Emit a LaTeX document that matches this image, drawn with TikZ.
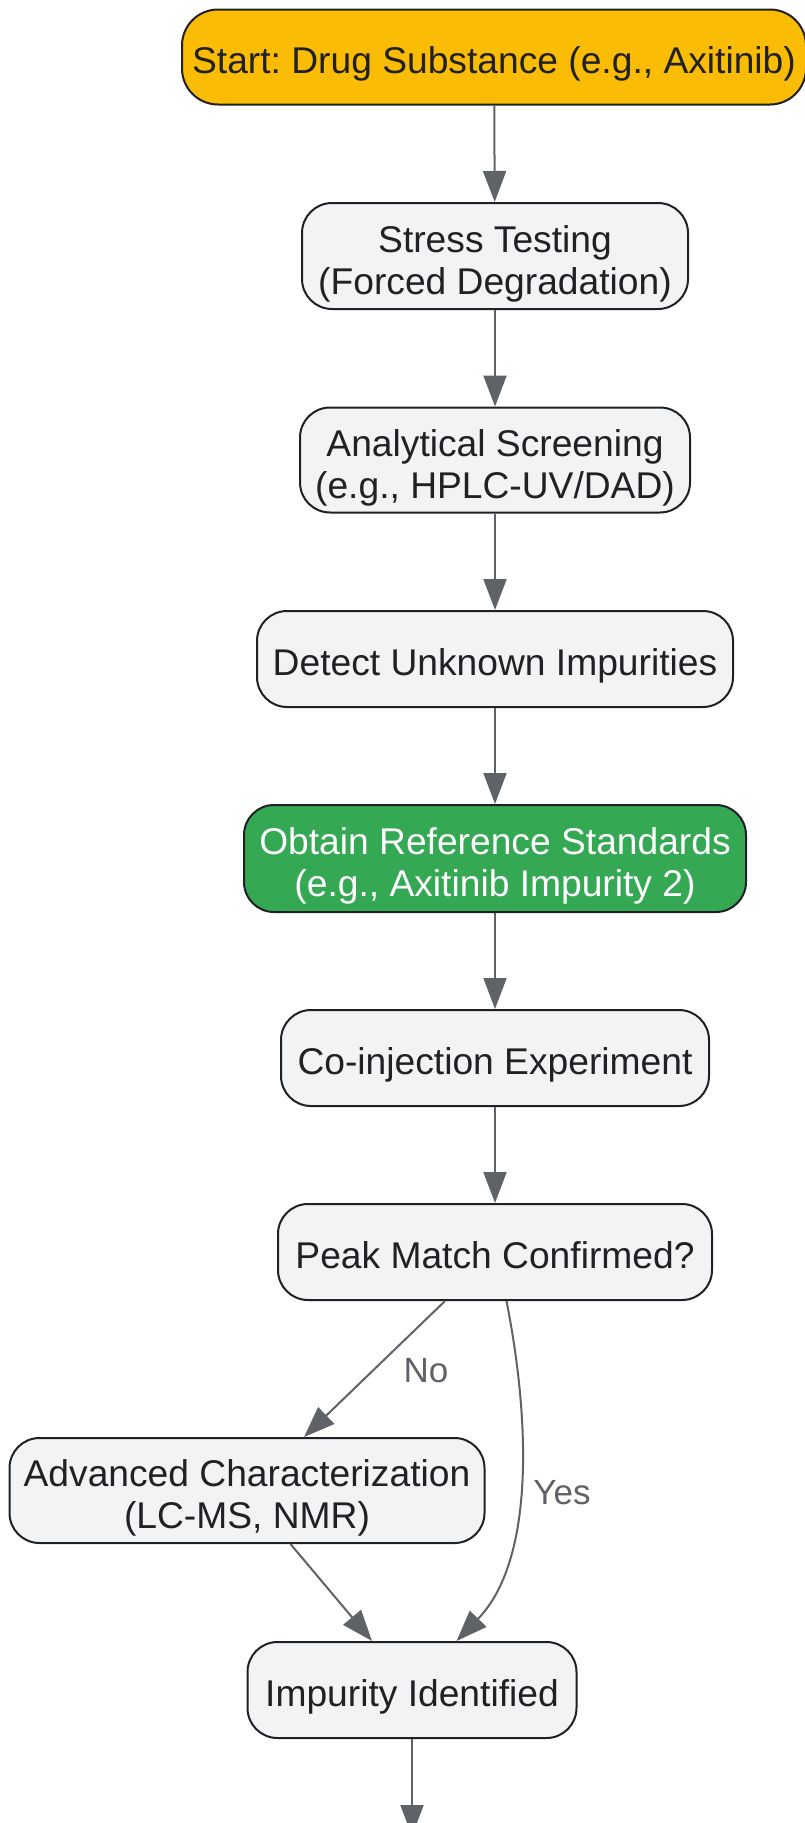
\documentclass[tikz,border=0pt]{standalone}
\usepackage{fontspec}
\setmainfont{Liberation Sans}
\usetikzlibrary{arrows.meta}
\frenchspacing
\definecolor{boxfill}{HTML}{F1F3F4}
\definecolor{startfill}{HTML}{FBBC05}
\definecolor{greenfill}{HTML}{34A853}
\definecolor{txt}{HTML}{202124}
\definecolor{edgecol}{HTML}{5F6368}
\definecolor{lblcol}{HTML}{5F6368}
\newcommand{\mysingle}{\rule[-10pt]{0pt}{53pt}}
\newcommand{\mytopline}{\rule{0pt}{42pt}}
\newcommand{\mybotline}{\rule[-8pt]{0pt}{8pt}}
\tikzset{
  boxstyle/.style={draw=txt, line width=2pt, rounded corners=30pt, fill=boxfill,
    text=txt, align=center, inner sep=0pt,
    font=\fontsize{37.2pt}{42pt}\selectfont\frenchspacing},
  conn/.style={draw=edgecol, line width=2pt, -{Triangle[length=31pt,width=23pt]}},
  lbl/.style={text=lblcol, font=\fontsize{35pt}{40pt}\selectfont, inner sep=0pt}
}
\begin{document}
\begin{tikzpicture}[x=1pt,y=-1pt]
\useasboundingbox (0,0) rectangle (804,1823);
\node[boxstyle, fill=startfill, minimum width=624pt, minimum height=95pt, rounded corners=36pt] (start) at (494,57) {\mysingle Start: Drug Substance (e.g., Axitinib)};
\node[boxstyle, minimum width=386pt, minimum height=106pt] (stress) at (495,256) {\mytopline Stress Testing\\(Forced Degradation)\mybotline};
\node[boxstyle, minimum width=390pt, minimum height=105pt] (screen) at (495,460) {\mytopline Analytical Screening\\(e.g., HPLC-UV/DAD)\mybotline};
\node[boxstyle, minimum width=476pt, minimum height=96pt] (detect) at (495,659) {\mysingle Detect Unknown Impurities};
\node[boxstyle, fill=greenfill, text=white, minimum width=502pt, minimum height=107pt] (obtain) at (495,858.5) {\mytopline Obtain Reference Standards\\(e.g., Axitinib Impurity 2)\mybotline};
\node[boxstyle, minimum width=428pt, minimum height=96pt] (coinj) at (495,1058) {\mysingle Co-injection Experiment};
\node[boxstyle, minimum width=434pt, minimum height=96pt] (peak) at (495,1252) {\mysingle Peak Match Confirmed?};
\node[boxstyle, minimum width=475pt, minimum height=105pt] (adv) at (247,1490.5) {\mytopline Advanced Characterization\\(LC-MS, NMR)\mybotline};
\node[boxstyle, minimum width=329pt, minimum height=96pt] (imp) at (412,1690) {\mysingle Impurity Identified};
\coordinate (endpt) at (412,1836);
\draw[conn] (start) -- (stress);
\draw[conn] (stress) -- (screen);
\draw[conn] (screen) -- (detect);
\draw[conn] (detect) -- (obtain);
\draw[conn] (obtain) -- (coinj);
\draw[conn] (coinj) -- (peak);
\draw[conn] ([xshift=-50pt]peak.south) -- ([xshift=57pt]adv.north);
\draw[conn] ([xshift=11.5pt]peak.south) .. controls (530,1420) and (535,1560) .. ([xshift=44.6pt]imp.north);
\draw[conn] ([xshift=43.5pt]adv.south) -- ([xshift=-40pt]imp.north);
\draw[conn] (imp) -- (endpt);
\node[lbl] (nolbl) at (426,1371) {No};
\node[lbl] (yeslbl) at (562,1493) {Yes};
\end{tikzpicture}
\end{document}
